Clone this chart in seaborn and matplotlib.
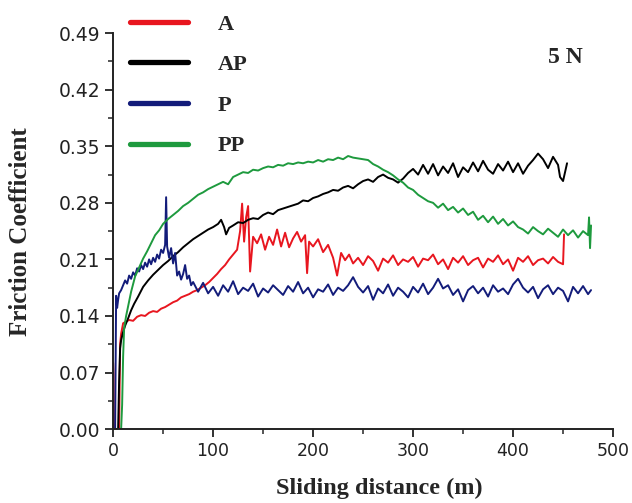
import numpy as np
import pandas as pd
import matplotlib
matplotlib.use("Agg")
import matplotlib.pyplot as plt
import seaborn as sns
from matplotlib.ticker import MultipleLocator
from matplotlib.lines import Line2D

# --- data (sliding distance in m, friction coefficient) ---
# A (red)
a_head_x = [0, 0.4, 0.8, 6, 7, 8, 10, 13, 16, 20, 24, 28, 32, 36, 40, 44, 48, 52, 56, 60,
            64, 68, 72, 76, 80, 84, 88, 92, 96, 100, 104, 108, 112, 116, 120, 124, 127, 129, 131, 133,
            135, 137, 140, 144, 148, 152, 156, 160, 164, 168, 172, 176, 180, 184, 188, 192, 194, 196, 200, 205,
            210, 215, 220, 224, 228, 232, 236]
a_head_y = [0.082, 0.068, 0.0, 0.0, 0.105, 0.118, 0.131, 0.133, 0.135, 0.134,
            0.139, 0.141, 0.140, 0.144, 0.146, 0.145, 0.149, 0.151, 0.154, 0.157,
            0.159, 0.163, 0.165, 0.167, 0.170, 0.172, 0.175, 0.178, 0.182, 0.187,
            0.192, 0.198, 0.203, 0.210, 0.216, 0.222, 0.245, 0.279, 0.232, 0.262,
            0.276, 0.195, 0.238, 0.230, 0.241, 0.222, 0.238, 0.228, 0.247, 0.226,
            0.243, 0.225, 0.236, 0.244, 0.232, 0.240, 0.193, 0.232, 0.226, 0.235,
            0.219, 0.228, 0.212, 0.190, 0.218, 0.209, 0.216]
a_tail_start = 240
a_tail_y = [0.205, 0.212, 0.203, 0.214, 0.208, 0.196, 0.211, 0.206, 0.215, 0.203,
            0.210, 0.207, 0.213, 0.201, 0.211, 0.209, 0.216, 0.204, 0.210, 0.198,
            0.212, 0.206, 0.214, 0.203, 0.209, 0.212, 0.200, 0.211, 0.207, 0.215,
            0.204, 0.210, 0.196, 0.212, 0.207, 0.214, 0.203, 0.209, 0.211, 0.205,
            0.213, 0.207, 0.204]
a_end_x = [451]
a_end_y = [0.241]

# AP (black)
ap_head_x = [5, 6, 7, 8, 10, 12, 15, 18, 21, 25, 30, 35, 40, 45, 50, 55, 60, 65, 70, 75,
             80, 85, 90, 95, 100, 105, 108, 111, 113, 116]
ap_head_y = [0.0, 0.06, 0.100, 0.110, 0.120, 0.128, 0.137, 0.147, 0.155, 0.164,
             0.176, 0.184, 0.191, 0.197, 0.203, 0.208, 0.214, 0.219, 0.225, 0.230,
             0.235, 0.239, 0.243, 0.247, 0.250, 0.254, 0.259, 0.250, 0.241, 0.249]
ap_tail_start = 120
ap_tail_y = [0.252, 0.256, 0.255, 0.259, 0.261, 0.260, 0.265, 0.268, 0.266, 0.271,
             0.273, 0.275, 0.277, 0.279, 0.283, 0.282, 0.286, 0.288, 0.291, 0.293,
             0.296, 0.295, 0.299, 0.301, 0.298, 0.303, 0.307, 0.309, 0.306, 0.312,
             0.315, 0.311, 0.309, 0.305, 0.310, 0.317, 0.322, 0.315, 0.327, 0.316,
             0.328, 0.314, 0.325, 0.317, 0.329, 0.312, 0.324, 0.318, 0.330, 0.319,
             0.332, 0.321, 0.316, 0.328, 0.320, 0.331, 0.318, 0.329, 0.316, 0.326,
             0.333, 0.341, 0.334, 0.323, 0.337, 0.327]
ap_end_x = [447, 450, 452, 454]
ap_end_y = [0.312, 0.307, 0.318, 0.329]

# P (navy)
p_head_x = [2, 3, 4, 5, 6, 8, 10, 12, 14, 16, 18, 20, 22, 24, 26, 28, 30, 32, 34, 36,
            38, 40, 42, 44, 46, 48, 50, 52, 53, 54, 56, 58, 60, 62, 64, 66, 68, 70, 72, 74,
            76, 78, 80]
p_head_y = [0.0, 0.165, 0.150, 0.160, 0.168, 0.172, 0.178, 0.184, 0.180, 0.190,
            0.186, 0.194, 0.190, 0.199, 0.195, 0.203, 0.198, 0.206, 0.201, 0.210,
            0.204, 0.212, 0.207, 0.216, 0.211, 0.222, 0.218, 0.228, 0.287, 0.226,
            0.212, 0.224, 0.205, 0.218, 0.190, 0.195, 0.185, 0.192, 0.203, 0.186,
            0.190, 0.178, 0.182]
p_tail_start = 85
p_tail_y = [0.170, 0.181, 0.168, 0.176, 0.165, 0.178, 0.170, 0.183, 0.167, 0.175,
            0.171, 0.180, 0.164, 0.174, 0.169, 0.178, 0.172, 0.166, 0.177, 0.170,
            0.182, 0.168, 0.175, 0.163, 0.173, 0.170, 0.179, 0.166, 0.175, 0.171,
            0.178, 0.188, 0.176, 0.169, 0.177, 0.160, 0.174, 0.168, 0.179, 0.165,
            0.175, 0.170, 0.163, 0.176, 0.169, 0.180, 0.167, 0.175, 0.186, 0.174,
            0.178, 0.166, 0.173, 0.158, 0.172, 0.177, 0.168, 0.175, 0.164, 0.178,
            0.170, 0.174, 0.167, 0.179, 0.186, 0.175, 0.169, 0.176, 0.162, 0.173,
            0.178, 0.167, 0.175, 0.171, 0.158, 0.176, 0.168, 0.177, 0.167]
p_end_x = [478]
p_end_y = [0.172]

# PP (green)
pp_head_x = [8, 9, 10, 11, 13, 15, 18, 22, 26, 30, 34, 38, 42, 46, 50, 55, 60, 65, 70, 75,
             80, 85, 90, 95, 100]
pp_head_y = [0.0, 0.03, 0.09, 0.125, 0.140, 0.152, 0.170, 0.189, 0.200, 0.211,
             0.220, 0.230, 0.240, 0.246, 0.254, 0.260, 0.265, 0.270, 0.276, 0.280,
             0.285, 0.290, 0.293, 0.297, 0.300]
pp_tail_start = 105
pp_tail_y = [0.303, 0.306, 0.303, 0.312, 0.315, 0.318, 0.317, 0.321, 0.320, 0.323,
             0.325, 0.324, 0.327, 0.326, 0.329, 0.328, 0.330, 0.329, 0.331, 0.330,
             0.333, 0.331, 0.334, 0.333, 0.336, 0.334, 0.338, 0.336, 0.335, 0.334,
             0.333, 0.328, 0.325, 0.321, 0.318, 0.314, 0.309, 0.305, 0.299, 0.296,
             0.290, 0.286, 0.282, 0.280, 0.274, 0.279, 0.271, 0.275, 0.268, 0.273,
             0.265, 0.269, 0.259, 0.264, 0.256, 0.263, 0.254, 0.260, 0.252, 0.257,
             0.250, 0.247, 0.242, 0.250, 0.245, 0.241, 0.248, 0.243, 0.238, 0.247,
             0.240, 0.246, 0.237, 0.245, 0.240]
pp_end_x = [476, 477, 478]
pp_end_y = [0.262, 0.224, 0.252]


def build(head_x, head_y, tail_start, tail_y, end_x, end_y):
    tail_x = [tail_start + 5 * i for i in range(len(tail_y))]
    return pd.DataFrame({"x": head_x + tail_x + end_x, "y": head_y + tail_y + end_y})


series = [
    ("A", build(a_head_x, a_head_y, a_tail_start, a_tail_y, a_end_x, a_end_y), "#e8161f"),
    ("AP", build(ap_head_x, ap_head_y, ap_tail_start, ap_tail_y, ap_end_x, ap_end_y), "#000000"),
    ("P", build(p_head_x, p_head_y, p_tail_start, p_tail_y, p_end_x, p_end_y), "#131c7a"),
    ("PP", build(pp_head_x, pp_head_y, pp_tail_start, pp_tail_y, pp_end_x, pp_end_y), "#1e9a3e"),
]

sns.set_style("ticks")
plt.rcParams["font.family"] = ["DejaVu Sans"]

fig = plt.figure(figsize=(6.32, 5.03), dpi=100)
ax = fig.add_axes([0.179, 0.147, 0.791, 0.787])

for name, df, col in series:
    sns.lineplot(data=df, x="x", y="y", color=col, lw=1.4, ax=ax, estimator=None,
                 sort=False, legend=False)

ax.set_xlim(0, 500)
ax.set_ylim(0, 0.49)
ax.xaxis.set_major_locator(MultipleLocator(100))
ax.xaxis.set_minor_locator(MultipleLocator(50))
ax.yaxis.set_major_locator(MultipleLocator(0.07))
ax.yaxis.set_minor_locator(MultipleLocator(0.035))
ax.yaxis.set_major_formatter(matplotlib.ticker.FormatStrFormatter("%.2f"))
ax.tick_params(which="major", direction="out", length=6, width=1.3, colors="#222222")
ax.tick_params(axis="y", labelsize=13.5)
ax.tick_params(axis="x", labelsize=12.5)
ax.tick_params(which="minor", direction="out", length=3.5, width=1.1)
for s in ["left", "bottom"]:
    ax.spines[s].set_linewidth(1.4)
    ax.spines[s].set_color("#222222")
sns.despine(ax=ax)

serif_bold = dict(family=["Liberation Serif", "DejaVu Serif"], weight="bold")
ax.set_xlabel("Sliding distance (m)", fontsize=17.5, **serif_bold)
ax.xaxis.set_label_coords(0.532, -0.122)
ax.set_ylabel("Friction Coefficient", fontsize=18, labelpad=19, **serif_bold)
ax.text(452, 0.46, "5 N", fontsize=17, ha="center", va="center", **serif_bold)

handles = [Line2D([], [], color=col, lw=3.8) for _, _, col in series]
labels = [name for name, _, _ in series]
fig.legend(handles, labels, loc="upper left", bbox_to_anchor=(0.206, 0.972),
           frameon=False, handlelength=2.6, handletextpad=1.35, labelspacing=0.9,
           borderaxespad=0, borderpad=0,
           prop={"family": ["Liberation Serif"], "weight": "bold", "size": 16})

fig.savefig("out.png", dpi=100)
